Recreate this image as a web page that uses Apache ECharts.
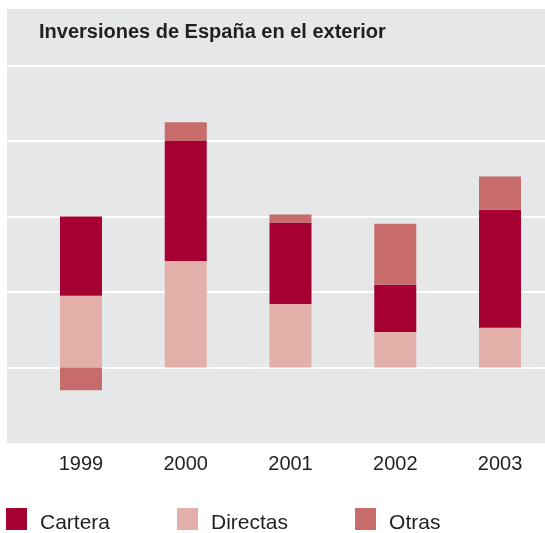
<!DOCTYPE html>
<html>
<head>
<meta charset="utf-8">
<script src="https://cdn.jsdelivr.net/npm/echarts@6/dist/echarts.min.js"></script>
<style>
html,body{margin:0;padding:0;background:#ffffff;}
#chart{width:545px;height:533px;}
</style>
</head>
<body>
<div id="chart"></div>
<script>
var categories = ['1999', '2000', '2001', '2002', '2003'];
var directas = [0.95, 1.41, 0.84, 0.47, 0.525];
var cartera = [1.05, 1.59, 1.08, 0.625, 1.565];
var otras = [-0.30, 0.25, 0.105, 0.81, 0.44];
var titleText = 'Inversiones de España en el exterior';

var colCartera = '#a60032';
var colDirectas = '#e3afa9';
var colOtras = '#c76c6b';
var textCol = '#231f20';
var fontFam = '"Liberation Sans", Arial, sans-serif';

var chart = echarts.init(document.getElementById('chart'), null, {renderer: 'canvas'});
chart.setOption({
  animation: false,
  backgroundColor: '#ffffff',
  title: {
    text: titleText,
    left: 34, top: 17,
    textStyle: {fontFamily: fontFam, fontSize: 20, fontWeight: 'bold', color: textCol}
  },
  legend: {
    left: 6, top: 508, padding: 0,
    itemWidth: 21, itemHeight: 22, itemGap: 67,
    icon: 'rect',
    data: ['Cartera', 'Directas', 'Otras'],
    formatter: '{t|{name}}',
    textStyle: {fontFamily: fontFam, fontSize: 21, color: textCol,
      rich: {t: {fontFamily: fontFam, fontSize: 21, color: textCol, padding: [8, 0, 0, 8]}}}
  },
  grid: [
    {left: 7, right: 0, top: 9, bottom: 90, show: true, backgroundColor: '#e6e7e9', borderWidth: 0,
     outerBoundsMode: 'none', containLabel: false},
    {left: 28.6, width: 523.8, top: 65.5, bottom: 90, outerBoundsMode: 'none', containLabel: false}
  ],
  xAxis: [
    {gridIndex: 0, type: 'value', show: false, min: 0, max: 1},
    {gridIndex: 1, type: 'category', data: categories,
     axisLine: {show: false}, axisTick: {show: false},
     axisLabel: {fontFamily: fontFam, fontSize: 20, color: textCol, margin: 11}}
  ],
  yAxis: [
    {gridIndex: 0, type: 'value', min: -1, max: 4.75, interval: 1,
     axisLine: {show: false}, axisTick: {show: false}, axisLabel: {show: false},
     splitLine: {show: true, showMinLine: false, showMaxLine: false, lineStyle: {color: '#ffffff', width: 2}}},
    {gridIndex: 1, type: 'value', min: -1, max: 4, interval: 1, show: false,
     splitLine: {show: false}}
  ],
  series: [
    {name: 'Directas', type: 'bar', stack: 'a', xAxisIndex: 1, yAxisIndex: 1, barWidth: 42,
     itemStyle: {color: colDirectas}, data: directas},
    {name: 'Cartera', type: 'bar', stack: 'a', xAxisIndex: 1, yAxisIndex: 1, barWidth: 42,
     itemStyle: {color: colCartera}, data: cartera},
    {name: 'Otras', type: 'bar', stack: 'a', xAxisIndex: 1, yAxisIndex: 1, barWidth: 42,
     itemStyle: {color: colOtras}, data: otras}
  ]
});
</script>
</body>
</html>
